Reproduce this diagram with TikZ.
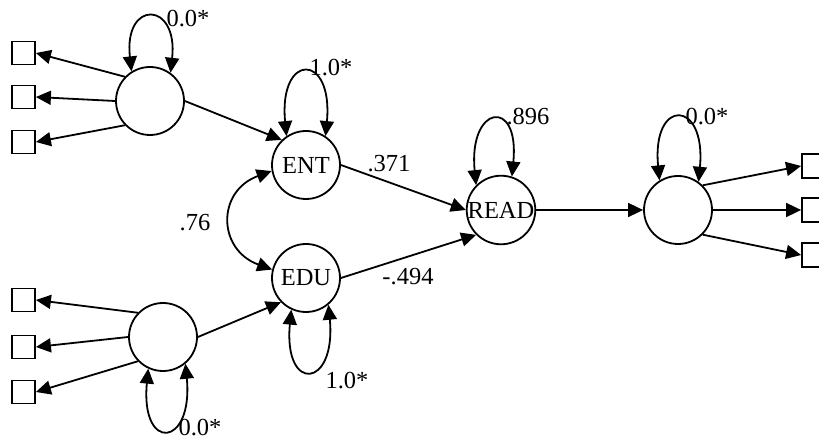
\documentclass[tikz,border=0pt]{standalone}
\usepackage{fontspec}
\setmainfont{Liberation Serif}
\usetikzlibrary{arrows.meta}
\begin{document}
\begin{tikzpicture}[x=1bp,y=-1bp,
  lat/.style={circle,draw,line width=1.8bp,minimum size=68bp,inner sep=0pt,font=\fontsize{24.5bp}{28bp}\selectfont},
  obs/.style={rectangle,draw,line width=1.8bp,minimum size=23bp,inner sep=0pt},
  lbl/.style={inner sep=0pt,font=\fontsize{24.5bp}{28bp}\selectfont},
  arr/.style={line width=1.8bp,-{Triangle[length=15bp,width=14bp]}},
  darr/.style={line width=1.8bp,{Triangle[length=15bp,width=14bp]}-{Triangle[length=15bp,width=14bp]}}]
\useasboundingbox (0,0) rectangle (819,441);
% latent nodes
\node[lat] (L1) at (150,101) {};
\node[lat] (L2) at (163,337) {};
\node[lat] (ENT) at (306,165) {ENT};
\node[lat] (EDU) at (306,278) {EDU};
\node[lat] (READ) at (501,210) {READ};
\node[lat] (L3) at (678,210) {};
% indicators
\node[obs] (a1) at (23.5,53) {};
\node[obs] (a2) at (23.5,97) {};
\node[obs] (a3) at (23.5,142) {};
\node[obs] (b1) at (23.5,300) {};
\node[obs] (b2) at (23.5,347) {};
\node[obs] (b3) at (23.5,392) {};
\node[obs,minimum size=24bp] (c1) at (814,166) {};
\node[obs,minimum size=24bp] (c2) at (814,210) {};
\node[obs,minimum size=24bp] (c3) at (814,255) {};
% loadings
\draw[arr] (L1.136) -- (a1.east);
\draw[arr] (L1.180) -- (a2.east);
\draw[arr] (L1.224) -- (a3.east);
\draw[arr] (L2.136) -- (b1.east);
\draw[arr] (L2.180) -- (b2.east);
\draw[arr] (L2.224) -- (b3.east);
\draw[arr] (L3.45) -- (c1.west);
\draw[arr] (L3.0) -- (c2.west);
\draw[arr] (L3.-45) -- (c3.west);
% structural paths
\draw[arr] (L1.east) -- (ENT.134);
\draw[arr] (L2.east) -- (EDU.224);
\draw[arr] (ENT.east) -- (READ.west);
\draw[arr] (EDU.east) -- (READ.225);
\draw[arr] (READ.east) -- (L3.west);
% covariance
\draw[darr] (ENT.190) .. controls +(-55,20) and +(-55,-20) .. (EDU.166);
% variance loops
\draw[darr] (L1.122) .. controls +(-8,-72) and +(8,-72) .. (L1.54);
\draw[darr] (ENT.124) .. controls +(-8,-84) and +(8,-84) .. (ENT.56);
\draw[darr] (READ.135) .. controls +(-8,-80) and +(8,-80) .. (READ.72);
\draw[darr] (L3.122) .. controls +(-8,-83) and +(8,-83) .. (L3.54);
\draw[darr] (EDU.245) .. controls +(-8,84) and +(8,84) .. (EDU.310);
\draw[darr] (L2.245) .. controls +(-8,84) and +(8,84) .. (L2.310);
% labels
\node[lbl] (t1) at (188,19) {0.0*};
\node[lbl] (t2) at (331,68) {1.0*};
\node[lbl] (t3) at (528,117) {.896};
\node[lbl] (t4) at (707,117) {0.0*};
\node[lbl] (t5) at (389,164) {.371};
\node[lbl] (t6) at (195,223) {.76};
\node[lbl] (t7) at (408,277) {-.494};
\node[lbl] (t8) at (347,381) {1.0*};
\node[lbl] (t9) at (200,428) {0.0*};
\end{tikzpicture}
\end{document}
